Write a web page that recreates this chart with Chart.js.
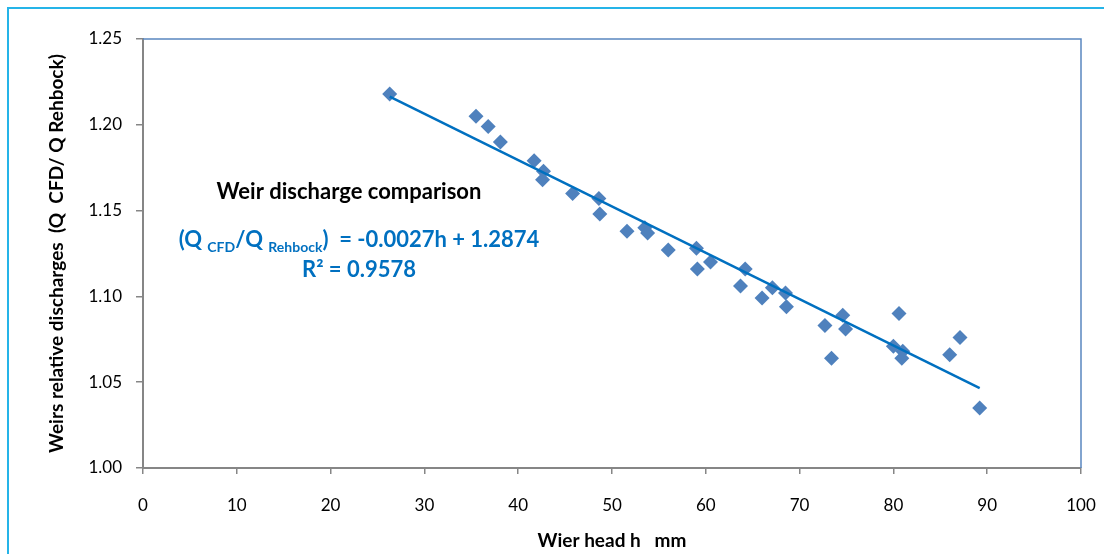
<!DOCTYPE html>
<html>
<head>
<meta charset="utf-8">
<script src="https://cdn.jsdelivr.net/npm/chart.js@4"></script>
<style>
  html, body { margin: 0; padding: 0; background: #fff; }
  #wrap { position: relative; width: 1104px; height: 554px; }
</style>
</head>
<body>
<div id="wrap"><canvas id="weirChart" width="1104" height="554"></canvas></div>
<script>
// Wier head h (mm)
const headMm = [26.3, 35.5, 36.8, 38.1, 41.7, 42.7, 42.6, 45.8, 48.6, 48.7,
                51.6, 53.5, 53.8, 56.0, 59.0, 59.1, 60.5, 64.2, 63.7, 66.0,
                67.1, 68.5, 68.6, 72.7, 73.4, 74.6, 74.9, 80.6, 80.0, 81.0,
                80.9, 86.0, 87.1, 89.2];
// Q CFD / Q Rehbock
const relDischarge = [1.218, 1.205, 1.199, 1.190, 1.179, 1.173, 1.168, 1.160, 1.157, 1.148,
                      1.138, 1.140, 1.137, 1.127, 1.128, 1.116, 1.120, 1.116, 1.106, 1.099,
                      1.105, 1.102, 1.094, 1.083, 1.064, 1.089, 1.081, 1.090, 1.071, 1.068,
                      1.064, 1.066, 1.076, 1.035];
// trend line as printed on the chart
const trendSlope = -0.0027;
const trendIntercept = 1.2874;
const trendR2 = 0.9578;

const xTicks = [0, 10, 20, 30, 40, 50, 60, 70, 80, 90, 100];
const yTicks = [1.00, 1.05, 1.10, 1.15, 1.20, 1.25];

const FONT = 'Lato, "Open Sans", sans-serif';

const points = headMm.map((h, i) => ({ x: h, y: relDischarge[i] }));
const hMin = Math.min(...headMm);
const hMax = Math.max(...headMm);
const trendPoints = [hMin, hMax].map(h => ({ x: h, y: trendSlope * h + trendIntercept }));

// Rahmen + Plotbox oben/rechts
const framePlugin = {
    id: 'frame',
    beforeDraw(chart) {
        const ctx = chart.ctx;
        ctx.save();
        ctx.strokeStyle = '#25b4e8';
        ctx.lineWidth = 2;
        ctx.beginPath();
        ctx.moveTo(8, 554);
        ctx.lineTo(8, 8);
        ctx.lineTo(1104, 8);
        ctx.stroke();
        ctx.restore();
    },
    afterDraw(chart) {
        const a = chart.chartArea;
        const ctx = chart.ctx;
        ctx.save();
        ctx.strokeStyle = '#5a87c0';
        ctx.lineWidth = 1.5;
        ctx.beginPath();
        ctx.moveTo(a.left, a.top);
        ctx.lineTo(a.right, a.top);
        ctx.lineTo(a.right, a.bottom);
        ctx.stroke();
        ctx.restore();
    }
};

// Beschriftung der Trendlinie
function drawRuns(ctx, runs, cx, baseY) {
    let total = 0;
    runs.forEach(r => {
        ctx.font = 'bold ' + r.size + 'px ' + FONT;
        r.w = ctx.measureText(r.text).width;
        total += r.w;
    });
    let x = cx - total / 2;
    runs.forEach(r => {
        ctx.font = 'bold ' + r.size + 'px ' + FONT;
        ctx.fillText(r.text, x, baseY + (r.dy || 0));
        x += r.w;
    });
}

const labelPlugin = {
    id: 'trendLabel',
    afterDraw(chart) {
        const ctx = chart.ctx;
        ctx.save();
        ctx.textBaseline = 'alphabetic';
        ctx.textAlign = 'left';
        ctx.fillStyle = '#000';
        drawRuns(ctx, [{ text: 'Weir discharge comparison', size: 22 }], 349, 199);
        ctx.fillStyle = '#0070c0';
        drawRuns(ctx, [
            { text: '(Q ', size: 22 },
            { text: 'CFD', size: 14, dy: 5 },
            { text: '/Q ', size: 22 },
            { text: 'Rehbock', size: 14, dy: 5 },
            { text: ')  = ' + trendSlope.toFixed(4) + 'h + ' + trendIntercept.toFixed(4), size: 22 }
        ], 359, 247);
        drawRuns(ctx, [{ text: 'R\u00b2 = ' + trendR2.toFixed(4), size: 22 }], 359, 277);
        ctx.restore();
    }
};

const ctx = document.getElementById('weirChart').getContext('2d');
new Chart(ctx, {
    type: 'scatter',
    data: {
        datasets: [
            {
                type: 'line',
                label: 'Trend',
                data: trendPoints,
                borderColor: '#0070c0',
                borderWidth: 2.5,
                pointRadius: 0,
                fill: false,
                order: 0
            },
            {
                label: 'Q CFD / Q Rehbock',
                data: points,
                pointStyle: 'rectRot',
                pointRadius: 7.5,
                pointBackgroundColor: '#4f81bd',
                pointBorderColor: '#4f81bd',
                pointBorderWidth: 0,
                order: 1
            }
        ]
    },
    options: {
        responsive: false,
        animation: false,
        layout: { padding: { top: 39, right: 23, left: 0, bottom: 0 } },
        plugins: {
            legend: { display: false },
            tooltip: { enabled: false }
        },
        scales: {
            x: {
                type: 'linear',
                min: xTicks[0],
                max: xTicks[xTicks.length - 1],
                afterFit(scale) {
                    scale.height = 86;
                    scale.paddingLeft = 0;
                    scale.paddingRight = 0;
                },
                afterBuildTicks(scale) { scale.ticks = xTicks.map(v => ({ value: v })); },
                ticks: {
                    color: '#000',
                    font: { family: FONT, size: 17 },
                    padding: 21,
                    callback: v => String(v)
                },
                grid: { drawOnChartArea: false, tickLength: 6, color: '#868686', lineWidth: 1.5 },
                border: { color: '#868686', width: 2 },
                title: {
                    display: true,
                    text: 'Wier head h   mm',
                    color: '#000',
                    font: { family: FONT, size: 19, weight: 'bold' },
                    padding: { top: 0, bottom: 2 }
                }
            },
            y: {
                type: 'linear',
                min: yTicks[0],
                max: yTicks[yTicks.length - 1],
                afterFit(scale) { scale.width = 143; },
                afterBuildTicks(scale) { scale.ticks = yTicks.map(v => ({ value: v })); },
                ticks: {
                    color: '#000',
                    font: { family: FONT, size: 17 },
                    padding: 14,
                    callback: v => v.toFixed(2)
                },
                grid: { drawOnChartArea: false, tickLength: 7, color: '#868686', lineWidth: 1.5 },
                border: { color: '#868686', width: 2 },
                title: {
                    display: true,
                    text: 'Weirs relative discharges  (Q  CFD/ Q Rehbock)',
                    color: '#000',
                    font: { family: FONT, size: 19, weight: 'bold' },
                    padding: { top: 45, bottom: 0 }
                }
            }
        }
    },
    plugins: [framePlugin, labelPlugin]
});
</script>
</body>
</html>
